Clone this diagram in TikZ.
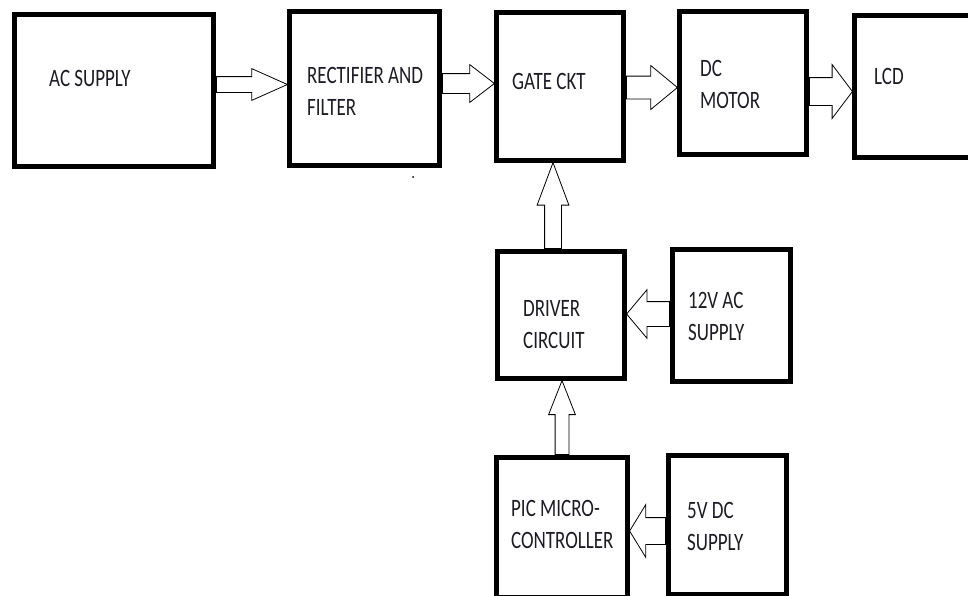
\documentclass[tikz,border=0pt]{standalone}
\usepackage{fontspec}
\setmainfont{Carlito}
\usepackage{xcolor}
\usepackage{tikz}
\usetikzlibrary{shapes.arrows}
\definecolor{inkblack}{RGB}{28,28,36}
\tikzstyle{block} = [rectangle, draw, line width=5pt, inner sep=0pt]
\tikzstyle{blocktext} = [anchor=north west, inner sep=0pt, align=left, xscale=0.76, text=inkblack, font=\fontsize{25}{32}\selectfont]
\tikzstyle{blockarrow} = [single arrow, draw, line width=0.8pt, inner xsep=0pt, minimum width=0pt, anchor=tail]

\begin{document}
\begin{tikzpicture}[x=1pt, y=-1pt]
    \useasboundingbox (0,0) rectangle (968,595);

    % Main chain of blocks
    \node[block, minimum width=199, minimum height=152] (ac) at (114,90.5) {};
    \node[block, minimum width=150, minimum height=154] (rect) at (364.5,88.5) {};
    \node[block, minimum width=127, minimum height=148] (gate) at (560,86.5) {};
    \node[block, minimum width=127, minimum height=143] (motor) at (743,83) {};
    \node[block, minimum width=133, minimum height=142] (lcd) at (921,86.5) {};

    % Control blocks below the gate circuit
    \node[block, minimum width=127, minimum height=127] (driver) at (561,315) {};
    \node[block, minimum width=118, minimum height=132] (acsupply) at (731.5,315.5) {};
    \node[block, minimum width=131, minimum height=140] (pic) at (562,527.5) {};
    \node[block, minimum width=118, minimum height=139] (dcsupply) at (727.5,525) {};

    % Block texts
    \node[blocktext] (actext) at (49,70) {AC SUPPLY};
    \node[blocktext] (recttext) at (307,67) {RECTIFIER AND\\FILTER};
    \node[blocktext] (gatetext) at (512,73) {GATE CKT};
    \node[blocktext] (motortext) at (700,60) {DC\\MOTOR};
    \node[blocktext] (lcdtext) at (874,68) {LCD};
    \node[blocktext] (drivertext) at (523,300) {DRIVER\\CIRCUIT};
    \node[blocktext] (acsupplytext) at (688,292) {12V AC\\SUPPLY};
    \node[blocktext] (pictext) at (511,500) {PIC MICRO-\\CONTROLLER};
    \node[blocktext] (dcsupplytext) at (687,502) {5V DC\\SUPPLY};

    % Hollow arrows - main chain
    \node[blockarrow, minimum height=71, inner ysep=7.5, single arrow head extend=8, single arrow tip angle=48] (arr1) at (ac.east |- 0,84.5) {};
    \node[blockarrow, minimum height=52, inner ysep=9.5, single arrow head extend=9, single arrow tip angle=75] (arr2) at (rect.east |- 0,83.5) {};
    \node[blockarrow, minimum height=51, inner ysep=11, single arrow head extend=10.5, single arrow tip angle=79] (arr3) at (gate.east |- 0,87.5) {};
    \node[blockarrow, minimum height=43, inner ysep=13.5, single arrow head extend=13, single arrow tip angle=106] (arr4) at (motor.east |- 0,91.5) {};

    % Hollow arrows - control path
    \node[blockarrow, rotate=90, minimum height=86, inner ysep=8, single arrow head extend=7.5, single arrow tip angle=41] (arr5) at (driver.north -| 553,0) {};
    \node[blockarrow, rotate=180, minimum height=43, inner ysep=12, single arrow head extend=12, single arrow tip angle=100] (arr6) at (acsupply.west |- 0,314) {};
    \node[blockarrow, rotate=90, minimum height=74, inner ysep=6.5, single arrow head extend=6.5, single arrow tip angle=43] (arr7) at (pic.north -| 562,0) {};
    \node[blockarrow, rotate=180, minimum height=36, inner ysep=13, single arrow head extend=13, single arrow tip angle=117] (arr8) at (dcsupply.west |- 0,531) {};

    % stray dot
    \fill (413,177) circle (1);
\end{tikzpicture}
\end{document}
